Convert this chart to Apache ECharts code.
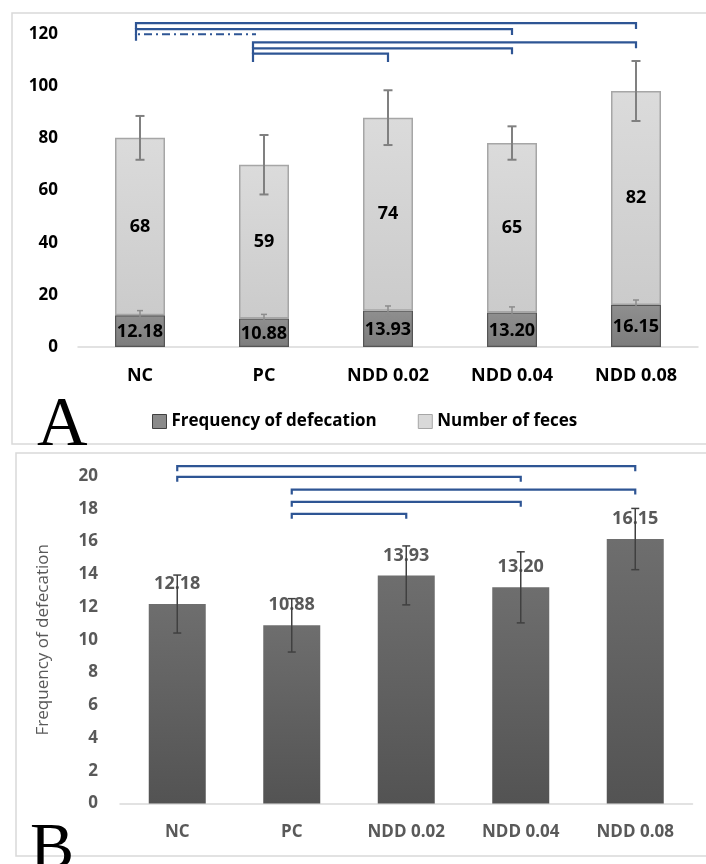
<!DOCTYPE html>
<html>
<head>
<meta charset="utf-8">
<script src="https://cdn.jsdelivr.net/npm/echarts@6/dist/echarts.min.js"></script>
<style>
html,body{margin:0;padding:0;background:#fff;}
#chart{width:706px;height:864px;}
</style>
</head>
<body>
<div id="chart"></div>
<script>
// ---- data ----
var categories = ['NC', 'PC', 'NDD 0.02', 'NDD 0.04', 'NDD 0.08'];
var freqValues = [12.18, 10.88, 13.93, 13.20, 16.15];
var freqErrors = [1.77, 1.63, 1.80, 2.17, 1.87];
var fecesValues = [68, 59, 74, 65, 82];
var fecesErrors = [8.4, 11.4, 10.5, 6.4, 11.5];
var yTicksA = [0, 20, 40, 60, 80, 100, 120];
var yTicksB = [0, 2, 4, 6, 8, 10, 12, 14, 16, 18, 20];
// significance brackets: [fromIndex, toIndex], level in axis units
var bracketPairsA = [[0, 4], [0, 3], [0, 1], [1, 4], [1, 3], [1, 2]];
var bracketLevelsA = [124.2, 121.9, 119.9, 116.8, 114.5, 112.5];
var bracketDashedA = [false, false, true, false, false, false];
var bracketPairsB = [[0, 4], [0, 3], [1, 4], [1, 3], [1, 2]];
var bracketLevelsB = [20.6, 19.95, 19.17, 18.42, 17.69];

// ---- build ----
var FONT = "'Open Sans', 'Noto Sans', sans-serif";
var BLUE = '#2e5594';

var totals = freqValues.map(function (v, i) { return v + fecesValues[i]; });
var errTopFeces = categories.map(function (c, i) { return [i, totals[i], fecesErrors[i]]; });
var errTopFreq = categories.map(function (c, i) { return [i, freqValues[i], freqErrors[i]]; });
var errB = categories.map(function (c, i) { return [i, freqValues[i], freqErrors[i]]; });

function errRender(capHalf, color, width) {
  return function (params, api) {
    var x = api.value(0), c = api.value(1), e = api.value(2);
    var t = api.coord([x, c + e]);
    var b = api.coord([x, c - e]);
    var st = { stroke: color, lineWidth: width };
    return {
      type: 'group',
      children: [
        { type: 'line', shape: { x1: t[0], y1: t[1], x2: b[0], y2: b[1] }, style: st },
        { type: 'line', shape: { x1: t[0] - capHalf, y1: t[1], x2: t[0] + capHalf, y2: t[1] }, style: st },
        { type: 'line', shape: { x1: b[0] - capHalf, y1: b[1], x2: b[0] + capHalf, y2: b[1] }, style: st }
      ]
    };
  };
}

function bracketRender(leftOffsets, dropFor) {
  return function (params, api) {
    var i = api.value(0), j = api.value(1), lvl = api.value(2), dashed = api.value(3);
    var p1 = api.coord([i, lvl]);
    var p2 = api.coord([j, lvl]);
    var x1 = p1[0] + (leftOffsets[i] || 0);
    var x2 = p2[0];
    var y = p1[1];
    var drop = dropFor(params.dataIndex, params.dataInsideLength);
    if (dashed) {
      x2 = p2[0] - 8;
      return {
        type: 'group',
        children: [
          { type: 'line', shape: { x1: x1, y1: y, x2: x1, y2: y + 6.5 }, style: { stroke: BLUE, lineWidth: 2.2 } },
          { type: 'line', shape: { x1: x1 + 2, y1: y, x2: x2, y2: y }, style: { stroke: BLUE, lineWidth: 2.2, lineDash: [2, 4, 8, 4] } }
        ]
      };
    }
    return {
      type: 'polyline',
      shape: { points: [[x1, y + drop], [x1, y], [x2, y], [x2, y + drop]] },
      style: { stroke: BLUE, lineWidth: 2.2, fill: null }
    };
  };
}

var bracketDataA = bracketPairsA.map(function (p, k) { return [p[0], p[1], bracketLevelsA[k], bracketDashedA[k] ? 1 : 0]; });
var bracketDataB = bracketPairsB.map(function (p, k) { return [p[0], p[1], bracketLevelsB[k], 0]; });

var chart = echarts.init(document.getElementById('chart'), null, { renderer: 'canvas' });

var option = {
  animation: false,
  backgroundColor: '#ffffff',
  textStyle: { fontFamily: FONT },
  graphic: [
    { type: 'rect', z: 0, shape: { x: 12, y: 13, width: 720, height: 431 }, style: { fill: null, stroke: '#d9d9d9', lineWidth: 1.5 } },
    { type: 'rect', z: 0, shape: { x: 16, y: 453, width: 720, height: 403 }, style: { fill: null, stroke: '#d9d9d9', lineWidth: 1.5 } },
    { type: 'text', z: 100, x: 37, y: 427, style: { text: 'A', font: "70px 'Liberation Serif', 'DejaVu Serif', serif", fill: '#000', verticalAlign: 'middle', align: 'left' } },
    { type: 'text', z: 100, x: 30, y: 851, style: { text: 'B', font: "66px 'Liberation Serif', 'DejaVu Serif', serif", fill: '#000', verticalAlign: 'middle', align: 'left' } }
  ],
  legend: {
    left: 147,
    top: 408,
    itemWidth: 14,
    itemHeight: 14,
    itemGap: 41,
    icon: 'rect',
    textStyle: { fontFamily: FONT, fontSize: 17, fontWeight: 'bold', color: '#000' },
    data: [
      { name: 'Frequency of defecation', itemStyle: { color: '#8a8a8a', borderColor: '#404040', borderWidth: 1 } },
      { name: 'Number of feces', itemStyle: { color: '#d9d9d9', borderColor: '#a6a6a6', borderWidth: 1 } }
    ]
  },
  grid: [
    { left: 78, top: 34, width: 620, height: 313 },
    { left: 120, top: 476, width: 572.5, height: 327.5 }
  ],
  xAxis: [
    {
      gridIndex: 0, type: 'category', data: categories,
      axisLine: { lineStyle: { color: '#d9d9d9', width: 1.5 } },
      axisTick: { show: false },
      axisLabel: { margin: 20, fontFamily: FONT, fontSize: 18, fontWeight: 'bold', color: '#000' }
    },
    {
      gridIndex: 1, type: 'category', data: categories,
      axisLine: { lineStyle: { color: '#d9d9d9', width: 1.5 } },
      axisTick: { show: false },
      axisLabel: { margin: 20, fontFamily: FONT, fontSize: 17, fontWeight: 'bold', color: '#595959' }
    }
  ],
  yAxis: [
    {
      gridIndex: 0, type: 'value', min: yTicksA[0], max: yTicksA[yTicksA.length - 1], interval: yTicksA[1] - yTicksA[0],
      axisLine: { show: false }, axisTick: { show: false }, splitLine: { show: false },
      axisLabel: { margin: 20, fontFamily: FONT, fontSize: 17, fontWeight: 'bold', color: '#000' }
    },
    {
      gridIndex: 1, type: 'value', min: yTicksB[0], max: yTicksB[yTicksB.length - 1], interval: yTicksB[1] - yTicksB[0],
      axisLine: { show: false }, axisTick: { show: false }, splitLine: { show: false },
      name: 'Frequency of defecation', nameLocation: 'middle', nameGap: 68, nameRotate: 90,
      nameTextStyle: { fontFamily: FONT, fontSize: 17, color: '#595959' },
      axisLabel: { margin: 22, fontFamily: FONT, fontSize: 17, fontWeight: 'bold', color: '#595959' }
    }
  ],
  series: [
    {
      name: 'Frequency of defecation', type: 'bar', stack: 'a', xAxisIndex: 0, yAxisIndex: 0,
      barWidth: 50, data: freqValues,
      itemStyle: {
        color: new echarts.graphic.LinearGradient(0, 0, 0, 1, [{ offset: 0, color: '#8f8f8f' }, { offset: 1, color: '#7c7c7c' }]),
        borderColor: '#555555', borderWidth: 1.2
      },
      label: {
        show: true, position: 'inside', offset: [0, 1],
        formatter: function (p) { return p.value.toFixed(2); },
        fontFamily: FONT, fontSize: 18, fontWeight: 'bold', color: '#000'
      }
    },
    {
      name: 'Number of feces', type: 'bar', stack: 'a', xAxisIndex: 0, yAxisIndex: 0,
      barWidth: 50, data: fecesValues,
      itemStyle: {
        color: new echarts.graphic.LinearGradient(0, 0, 0, 1, [{ offset: 0, color: '#dbdbdb' }, { offset: 1, color: '#cbcbcb' }]),
        borderColor: '#a6a6a6', borderWidth: 1.5
      },
      label: { show: true, position: 'inside', fontFamily: FONT, fontSize: 18, fontWeight: 'bold', color: '#000' }
    },
    {
      type: 'custom', xAxisIndex: 0, yAxisIndex: 0, z: 10, clip: false, silent: true,
      renderItem: errRender(4.5, '#808080', 2), data: errTopFeces
    },
    {
      type: 'custom', xAxisIndex: 0, yAxisIndex: 0, z: 10, clip: false, silent: true,
      renderItem: errRender(3, '#8c8c8c', 1.5), data: errTopFreq
    },
    {
      type: 'custom', xAxisIndex: 0, yAxisIndex: 0, z: 20, clip: false, silent: true,
      encode: { x: 0, y: 2 },
      renderItem: bracketRender({ 0: -4, 1: -11 }, function (k, n) { return k === n - 1 ? 8.5 : 6; }),
      data: bracketDataA
    },
    {
      name: 'FreqB', type: 'bar', xAxisIndex: 1, yAxisIndex: 1,
      barWidth: 57, data: freqValues,
      itemStyle: {
        color: new echarts.graphic.LinearGradient(0, 0, 0, 1, [{ offset: 0, color: '#6e6e6e' }, { offset: 1, color: '#535353' }])
      },
      label: {
        show: true, position: 'top', distance: 11,
        formatter: function (p) { return p.value.toFixed(2); },
        fontFamily: FONT, fontSize: 18, fontWeight: 'bold', color: '#595959'
      }
    },
    {
      type: 'custom', xAxisIndex: 1, yAxisIndex: 1, z: 10, clip: false, silent: true,
      renderItem: errRender(4, '#404040', 1.5), data: errB
    },
    {
      type: 'custom', xAxisIndex: 1, yAxisIndex: 1, z: 20, clip: false, silent: true,
      encode: { x: 0, y: 2 },
      renderItem: bracketRender({}, function () { return 5; }),
      data: bracketDataB
    }
  ]
};
chart.setOption(option);
</script>
</body>
</html>
